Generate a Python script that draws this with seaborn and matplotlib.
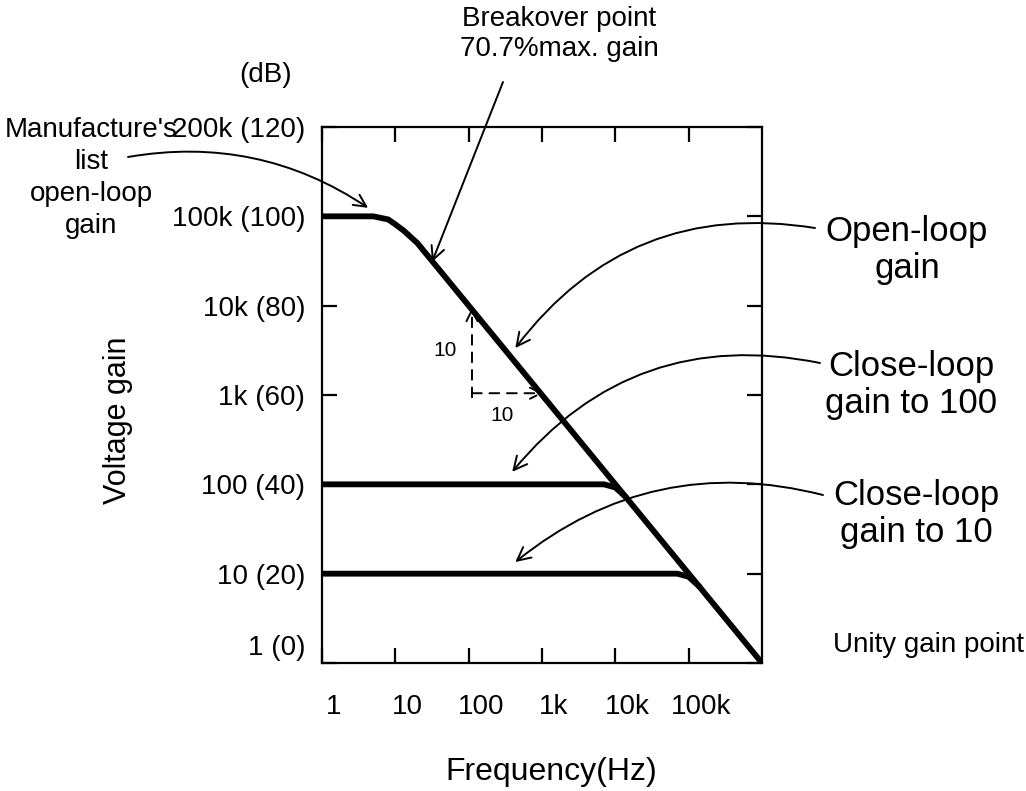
import matplotlib
matplotlib.use("Agg")
import matplotlib.pyplot as plt
import matplotlib.font_manager as fm
from matplotlib.transforms import ScaledTranslation
from matplotlib.ticker import NullLocator
import numpy as np
import pandas as pd
import seaborn as sns

# ---------------- data ----------------
open_freq = [1, 5, 8, 10, 13, 20, 1e6]
open_db = [100, 100, 99.3, 98.2, 96.8, 94, 0]

cl100_freq = [1, 7000, 10000, 14000]
cl100_db = [40, 40, 39.3, 37.1]

cl10_freq = [1, 70000, 100000, 140000]
cl10_db = [20, 20, 19.3, 17.1]

x_ticks = [1, 10, 100, 1000, 10000, 100000]
x_labels = ["1", "10", "100", "1k", "10k", "100k"]
y_ticks = [0, 20, 40, 60, 80, 100, 120]
y_labels = ["1 (0)", "10 (20)", "100 (40)", "1k (60)", "10k (80)", "100k (100)", "200k (120)"]

# ---------------- style ----------------
sns.set_theme(style="white")
names = {f.name for f in fm.fontManager.ttflist}
fam = [n for n in ["Liberation Sans Narrow", "Liberation Sans", "DejaVu Sans"] if n in names]
plt.rcParams["font.family"] = fam
plt.rcParams["axes.linewidth"] = 1.6
plt.rcParams["text.color"] = "black"
plt.rcParams["xtick.color"] = "black"
plt.rcParams["ytick.color"] = "black"
plt.rcParams["axes.labelcolor"] = "black"

W, H = 1026, 791
fig = plt.figure(figsize=(W / 100, H / 100), dpi=100)
fig.patch.set_facecolor("white")
ax = fig.add_axes([322 / W, 1 - 663 / H, 440 / W, 536 / H])

def fp(x, y):
    return (x, H - y)

df_open = pd.DataFrame({"f": open_freq, "g": open_db})
df_100 = pd.DataFrame({"f": cl100_freq, "g": cl100_db})
df_10 = pd.DataFrame({"f": cl10_freq, "g": cl10_db})

ax.set_xscale("log")
for d in (df_open, df_100, df_10):
    sns.lineplot(data=d, x="f", y="g", ax=ax, color="black", linewidth=4.2,
                 solid_capstyle="round", solid_joinstyle="round", sort=True)

ax.set_xlim(1, 1e6)
ax.set_ylim(0, 120)
ax.set_xlabel("")
ax.set_ylabel("")
for s in ax.spines.values():
    s.set_color("black")
    s.set_linewidth(1.6)

ax.set_xticks(x_ticks)
ax.set_xticklabels(x_labels)
ax.xaxis.set_minor_locator(NullLocator())
ax.set_yticks(y_ticks)
ax.set_yticklabels(y_labels)
ax.tick_params(axis="x", which="major", direction="in", length=11, width=1.6,
               top=True, bottom=True, labelsize=20, pad=22, color="black", labelcolor="black")
ax.tick_params(axis="y", which="major", direction="in", length=11, width=1.6,
               left=True, right=True, labelsize=20, pad=12, color="black", labelcolor="black")

for lab in ax.get_xticklabels():
    lab.set_transform(lab.get_transform() + ScaledTranslation(12 / 100, 0, fig.dpi_scale_trans))
ylabs = ax.get_yticklabels()
ylabs[0].set_transform(ylabs[0].get_transform() + ScaledTranslation(0, 18 / 100, fig.dpi_scale_trans))

# axis titles
fig.text(551 / W, 1 - 772 / H, "Frequency(Hz)", ha="center", va="center", fontsize=23, color="black")
fig.text(118 / W, 1 - 420 / H, "Voltage gain", ha="center", va="center", fontsize=22, rotation=90,
         color="black")
fig.text(292 / W, 1 - 75 / H, "(dB)", ha="right", va="center", fontsize=20, color="black")

# left annotation
ax.annotate("Manufacture's\nlist\nopen-loop\ngain", xy=(4.25, 101.9), xycoords="data",
            xytext=fp(91, 178), textcoords="figure pixels", ha="center", va="center",
            fontsize=20, linespacing=1.3, annotation_clip=False, color="black")
ax.annotate("", xy=(4.25, 101.9), xycoords="data", xytext=fp(128, 157), textcoords="figure pixels",
            arrowprops=dict(arrowstyle="->", color="black", lw=1.4, mutation_scale=22,
                            connectionstyle="arc3,rad=-0.2", shrinkA=0, shrinkB=0),
            annotation_clip=False)

# breakover point
fig.text(559 / W, 1 - 34 / H, "Breakover point\n70.7%max. gain", ha="center", va="center",
         fontsize=20, linespacing=1.25, color="black")
ax.annotate("", xy=(31.7, 89.8), xycoords="data", xytext=fp(503, 82), textcoords="figure pixels",
            arrowprops=dict(arrowstyle="->", color="black", lw=1.4, mutation_scale=24,
                            shrinkA=0, shrinkB=0), annotation_clip=False)

# right annotations
right_labels = [("Open-loop\ngain", fp(907, 250), fp(815, 228), (432, 70.5), 0.3),
                ("Close-loop\ngain to 100", fp(911, 385), fp(820, 363), (392, 42.8), 0.3),
                ("Close-loop\ngain to 10", fp(916, 514), fp(823, 495), (432, 22.6), 0.25)]
for txt, tpos, spos, tip, rad in right_labels:
    fig.text(tpos[0] / W, tpos[1] / H, txt, ha="center", va="center", fontsize=25,
             linespacing=1.15, color="black")
    ax.annotate("", xy=tip, xycoords="data", xytext=spos, textcoords="figure pixels",
                arrowprops=dict(arrowstyle="->", color="black", lw=1.4, mutation_scale=24,
                                connectionstyle=f"arc3,rad={rad}", shrinkA=0, shrinkB=0),
                annotation_clip=False)

fig.text(833 / W, 1 - 645 / H, "Unity gain point", ha="left", va="center", fontsize=20, color="black")

# slope triangle
ax.annotate("", xy=(111, 79.5), xytext=(111, 59.5), xycoords="data",
            arrowprops=dict(arrowstyle="->", color="black", lw=1.4, linestyle=(0, (5, 4)),
                            mutation_scale=20, shrinkA=0, shrinkB=0))
ax.annotate("", xy=(1040, 60.4), xytext=(111, 60.4), xycoords="data",
            arrowprops=dict(arrowstyle="->", color="black", lw=1.4, linestyle=(0, (5, 4)),
                            mutation_scale=20, shrinkA=0, shrinkB=0))
ax.text(48, 70, "10", ha="center", va="center", fontsize=15, color="black")
ax.text(286, 55.5, "10", ha="center", va="center", fontsize=15, color="black")

fig.savefig("out.png", dpi=100, facecolor="white")
